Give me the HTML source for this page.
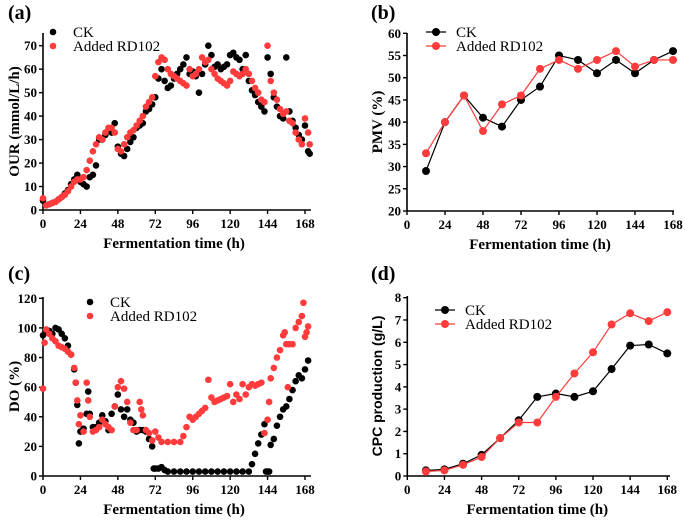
<!DOCTYPE html>
<html><head><meta charset="utf-8"><style>
body{margin:0;background:#fff}
svg{display:block}
.t{font-family:"Liberation Serif",serif;font-weight:bold;font-size:13px}
.lg{font-family:"Liberation Serif",serif;font-size:15px}
.ti{font-family:"Liberation Serif",serif;font-weight:bold;font-size:15px}
.pl{font-family:"Liberation Serif",serif;font-weight:bold;font-size:20px}
</style></head><body>
<svg id="c" width="685" height="520" xmlns="http://www.w3.org/2000/svg"></svg>
<script>
// Panel a (OUR)
const ourT=[0,2,4,6,8,10,12,14,16,18,20,22,24,26,28,30,32,34,36,38,40,42,44,46,48,50,52,54,56,58,60,62,64,66,68,70,72,74,76,78,80,82,84,86,88,90,92,94,96,98,100,102,104,106,108,110,112,114,116,118,120,122,124,126,128,130,132,134,136,138,140,142,144,146,148,150,152,154,156,158,160,162,164,166,168,170,171];
const ourCK=[4,2,2.5,3,3.5,4.5,5.5,7,8.5,11,13,15,12,11,10,14,15,19,30,30,32,34,33,37,27,24,23,26,29,31,35,36,37,42,43,45,48,56,60,55,52,53,56,58,60,62,65,58,59,57,50,58,62,70,66,61,62,60,61,62,66,67,65,64,60,66,55,51,49,46,44,42,65,58,48,44,40,39,65,42,38,35,32,30,36,25,24];
const ourRD=[5,2,2.5,3,3.5,4.5,5.5,6.5,8,10,12,13,13,14,17,21,25,28,31,30,33,35,35,33,26,25,28,31,33,34,36,38,40,44,46,48,57,63,65,64,60,58,57,56,55,54,53,60,57,58,60,65,63,64,60,58,56,55,54,53,55,59,58,57,58,60,58,55,52,50,47,46,70,55,50,47,43,41,42,38,37,33,30,28,39,33,28];
// Panel b (PMV)
const pmvT=[12,24,36,48,60,72,84,96,108,120,132,144,156,168];
const pmvCK=[29,40,46,41,39,45,48,55,54,51,54,51,54,56];
const pmvRD=[33,40,46,38,44,46,52,54,52,54,56,52.5,54,54];
// Panel c (DO)
const doTCK=[0,2,4,6,8,10,12,14,16,18,20,21,22,23,24,26,28,29,30,32,34,36,38,40,42,44,46,48,50,52,54,56,58,60,62,64,66,68,70,71,72,74,76,78,80,84,88,92,96,100,104,108,112,116,120,124,128,132,134,136,138,140,142,143,144,145,146,148,150,152,154,156,158,160,162,164,166,168,170];
const doCK=[95,97,98,96,100,99,96,93,88,82,72,63,48,22,30,32,42,57,42,33,33,36,41,37,31,42,47,55,45,40,45,38,36,30,31,31,30,25,20,5,5,5,6,4,3,3,3,3,3,3,3,3,3,3,3,3,3,3,8,15,22,28,35,3,3,3,21,25,34,40,45,47,52,58,64,68,66,72,78];
const doTRD=[0,1,2,4,6,8,10,12,14,16,18,20,21,22,23,24,26,28,29,30,32,34,36,38,40,42,44,46,48,50,52,54,56,58,60,62,63,64,66,68,70,72,74,76,80,84,88,90,92,94,96,98,100,102,104,106,108,110,112,114,116,118,120,122,124,126,128,130,132,134,136,138,140,142,144,145,146,148,150,152,154,155,156,157,158,160,162,164,166,167,168,169,170];
const doRD=[59,90,99,96,93,91,88,87,86,84,82,73,63,51,35,41,30,63,51,40,30,31,33,38,35,33,31,47,60,64,59,50,36,31,31,50,45,41,31,29,24,30,26,23,23,23,23,27,33,40,38,40,42,44,46,65,53,50,51,52,53,54,62,50,55,52,62,55,60,62,61,62,63,29,38,50,66,73,80,85,95,97,89,60,89,89,100,104,108,117,94,97,101];
// Panel d (CPC)
const cpcT=[12,24,36,48,60,72,84,96,108,120,132,144,156,168];
const cpcCK=[0.25,0.3,0.55,0.95,1.7,2.5,3.55,3.7,3.55,3.8,4.8,5.85,5.9,5.5];
const cpcRD=[0.2,0.25,0.5,0.85,1.7,2.4,2.4,3.55,4.6,5.55,6.8,7.3,6.95,7.35];
const xTicks=[0,24,48,72,96,120,144,168];

const svg=document.getElementById('c');
const NS='http://www.w3.org/2000/svg';
function mk(tag,at,parent,txt){const e=document.createElementNS(NS,tag);for(const k in at)e.setAttribute(k,at[k]);if(txt!==undefined)e.textContent=txt;(parent||svg).appendChild(e);return e;}
const RED='#ff3b3b';

function panel(P){
  const g=mk('g',{});
  
  
  const sx=v=>P.x0+(v)/168*(P.x1-P.x0);
  const sy=v=>P.y0-(v-P.ymin)/(P.ymax-P.ymin)*(P.y0-P.y1);
  P.sx=sx;P.sy=sy;
  const ax=mk('line',{x1:P.x0,y1:P.y0,x2:P.xe,y2:P.y0,stroke:'#000','stroke-width':1.6},g);
  
  const ay=mk('line',{x1:P.x0,y1:P.y0,x2:P.x0,y2:P.ye,stroke:'#000','stroke-width':1.6},g);
  
  xTicks.forEach(v=>{
    mk('line',{x1:sx(v),y1:P.y0,x2:sx(v),y2:P.y0+4,stroke:'#000','stroke-width':1.4},g);
    const t=mk('text',{x:sx(v),y:P.y0+18,'text-anchor':'middle',class:'t'},g,v);
    
  });
  P.yTicks.forEach(v=>{
    mk('line',{x1:P.x0-4,y1:sy(v),x2:P.x0,y2:sy(v),stroke:'#000','stroke-width':1.4},g);
    const t=mk('text',{x:P.x0-6,y:sy(v)+4.5,'text-anchor':'end',class:'t'},g,v);
    
  });
  const xt=mk('text',{x:(P.x0+P.x1)/2,y:P.y0+38,'text-anchor':'middle',class:'ti'},g,'Fermentation time (h)');
  
  const yt=mk('text',{x:0,y:0,'text-anchor':'middle',class:'ti',transform:`translate(${P.ytx},${(P.y0+P.ye)/2}) rotate(-90)`},g,P.ytitle);
  if(P.ysans){yt.setAttribute('style','font-family:"Liberation Sans",sans-serif;font-size:14px');}
  
  const pl=mk('text',{x:P.plx,y:P.ply,class:'pl'},g,P.label);
  
  return g;
}
function scatter(P,g,T,V,col,name){
  const s=mk('g',{},g);
  
  T.forEach((t,i)=>{const c=mk('circle',{cx:P.sx(t),cy:P.sy(V[i]),r:3.3,fill:col},s);
    });
}
function lineS(P,g,T,V,col,name){
  const s=mk('g',{},g);
  
  mk('polyline',{points:T.map((t,i)=>P.sx(t)+','+P.sy(V[i])).join(' '),fill:'none',stroke:col,'stroke-width':1.2},s);
  T.forEach((t,i)=>{const c=mk('circle',{cx:P.sx(t),cy:P.sy(V[i]),r:4,fill:col},s);
    });
}
function legend(g,x,y,isLine){
  const L=mk('g',{},g);
  
  [['CK','#000'],['Added RD102',RED]].forEach((e,i)=>{
    const yy=y+i*14;
    if(isLine){mk('line',{x1:x-10,y1:yy,x2:x+10,y2:yy,stroke:e[1],'stroke-width':1.2},L);}
    mk('circle',{cx:x,cy:yy,r:isLine?4:3.3,fill:e[1]},L);
    const t=mk('text',{x:x+(isLine?20:20),y:yy+5,class:'lg'},L,e[0]);
    
  });
}
// a
const A={name:'panel-a-our',x0:43,x1:305,xe:311,y0:210,y1:45.7,ye:33,ymin:0,ymax:70,yTicks:[0,10,20,30,40,50,60,70],ytx:19,ytitle:'OUR (mmol/L/h)',label:'(a)',plx:8,ply:19};
let g=panel(A);scatter(A,g,ourT,ourCK,'#000','series-ck');scatter(A,g,ourT,ourRD,RED,'series-rd102');
legend(g,53,32,false);
// b
const B={name:'panel-b-pmv',x0:407,x1:673,xe:674,y0:211,y1:33.3,ye:33,ymin:20,ymax:60,yTicks:[20,25,30,35,40,45,50,55,60],ytx:382,ytitle:'PMV (%)',label:'(b)',plx:371,ply:19};
g=panel(B);lineS(B,g,pmvT,pmvCK,'#000','series-ck');lineS(B,g,pmvT,pmvRD,RED,'series-rd102');
legend(g,436,32,true);
// c
const C={name:'panel-c-do',x0:43,x1:305,xe:311,y0:476,y1:298.3,ye:297,ymin:0,ymax:120,yTicks:[0,20,40,60,80,100,120],ytx:19,ytitle:'DO (%)',label:'(c)',plx:8,ply:280};
g=panel(C);scatter(C,g,doTCK,doCK,'#000','series-ck');scatter(C,g,doTRD,doRD,RED,'series-rd102');
legend(g,90,302,false);
// d
const D={name:'panel-d-cpc',x0:407.3,x1:667.3,xe:670,y0:476,y1:297.7,ye:296,ymin:0,ymax:8,yTicks:[0,1,2,3,4,5,6,7,8],ytx:382,ytitle:'CPC production (g/L)',ysans:true,label:'(d)',plx:371,ply:280};
g=panel(D);lineS(D,g,cpcT,cpcCK,'#000','series-ck');lineS(D,g,cpcT,cpcRD,RED,'series-rd102');
legend(g,445,310,true);
</script>
</body></html>
